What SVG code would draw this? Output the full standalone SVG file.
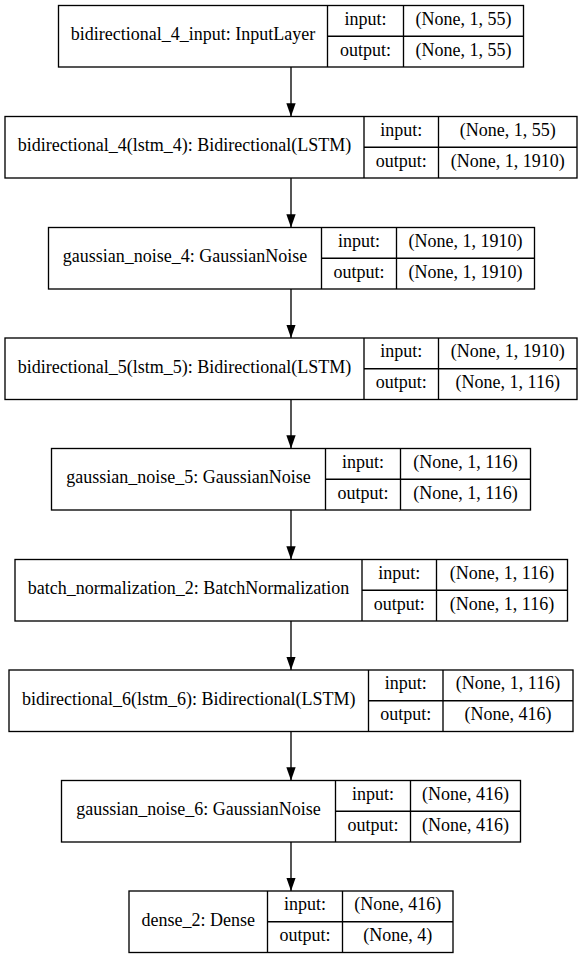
<svg xmlns="http://www.w3.org/2000/svg" width="583" height="959" viewBox="0 0 583 959">
  <style>
    .box { fill: #fff; stroke: #000; stroke-width: 1.33; }
    .sep { stroke: #000; stroke-width: 1.33; fill: none; }
    .t { font-family: 'Liberation Serif', 'Times New Roman', Times, 'DejaVu Serif', serif; font-size: 18px; fill: #000; text-anchor: middle; }
    .edge { stroke: #000; stroke-width: 1.33; fill: none; marker-end: url(#head); }
  </style>
  <defs>
    <marker id="head" viewBox="0 0 13.33 9.33" refX="13.33" refY="4.665" markerWidth="13.33" markerHeight="9.33" markerUnits="userSpaceOnUse" orient="auto">
      <path d="M0,0 L13.33,4.665 L0,9.33 z" fill="#000"/>
    </marker>
  </defs>
  <rect width="583" height="959" fill="#fff"/>

  <!-- connectors -->
  <g id="edges">
    <line class="edge" x1="291" y1="67" x2="291" y2="116.5"/>
    <line class="edge" x1="291" y1="178" x2="291" y2="227.5"/>
    <line class="edge" x1="291" y1="289" x2="291" y2="338"/>
    <line class="edge" x1="291" y1="399.5" x2="291" y2="448.5"/>
    <line class="edge" x1="291" y1="510" x2="291" y2="559.5"/>
    <line class="edge" x1="291" y1="621" x2="291" y2="670"/>
    <line class="edge" x1="291" y1="731.5" x2="291" y2="780.5"/>
    <line class="edge" x1="291" y1="842" x2="291" y2="891"/>
  </g>

  <!-- layer nodes -->
  <g class="t" font-family="Liberation Serif, serif">
  <g id="bidirectional_4_input" transform="translate(0,5.5)">
    <rect class="box" x="58.5" y="0" width="465" height="61.5"/>
    <path class="sep" d="M327.5,0 V61.5 M403.5,0 V61.5 M327.5,30.75 H523.5"/>
    <text x="193" y="34.75">bidirectional_4_input: InputLayer</text>
    <text x="365.5" y="19.4">input:</text>
    <text x="365.5" y="50.1">output:</text>
    <text x="463.5" y="19.4">(None, 1, 55)</text>
    <text x="463.5" y="50.1">(None, 1, 55)</text>
  </g>

  <g id="bidirectional_4" transform="translate(0,116.5)">
    <rect class="box" x="5" y="0" width="572" height="61.5"/>
    <path class="sep" d="M364,0 V61.5 M438.5,0 V61.5 M364,30.75 H577"/>
    <text x="184.5" y="34.75">bidirectional_4(lstm_4): Bidirectional(LSTM)</text>
    <text x="401.25" y="19.4">input:</text>
    <text x="401.25" y="50.1">output:</text>
    <text x="507.75" y="19.4">(None, 1, 55)</text>
    <text x="507.75" y="50.1">(None, 1, 1910)</text>
  </g>

  <g id="gaussian_noise_4" transform="translate(0,227.5)">
    <rect class="box" x="48.5" y="0" width="486" height="61.5"/>
    <path class="sep" d="M321.5,0 V61.5 M396.5,0 V61.5 M321.5,30.75 H534.5"/>
    <text x="185" y="34.75">gaussian_noise_4: GaussianNoise</text>
    <text x="359" y="19.4">input:</text>
    <text x="359" y="50.1">output:</text>
    <text x="465.5" y="19.4">(None, 1, 1910)</text>
    <text x="465.5" y="50.1">(None, 1, 1910)</text>
  </g>

  <g id="bidirectional_5" transform="translate(0,338)">
    <rect class="box" x="5" y="0" width="572" height="61.5"/>
    <path class="sep" d="M364,0 V61.5 M438.5,0 V61.5 M364,30.75 H577"/>
    <text x="184.5" y="34.75">bidirectional_5(lstm_5): Bidirectional(LSTM)</text>
    <text x="401.25" y="19.4">input:</text>
    <text x="401.25" y="50.1">output:</text>
    <text x="507.75" y="19.4">(None, 1, 1910)</text>
    <text x="507.75" y="50.1">(None, 1, 116)</text>
  </g>

  <g id="gaussian_noise_5" transform="translate(0,448.5)">
    <rect class="box" x="51.5" y="0" width="479" height="61.5"/>
    <path class="sep" d="M325.5,0 V61.5 M400.5,0 V61.5 M325.5,30.75 H530.5"/>
    <text x="188.5" y="34.75">gaussian_noise_5: GaussianNoise</text>
    <text x="363" y="19.4">input:</text>
    <text x="363" y="50.1">output:</text>
    <text x="465.5" y="19.4">(None, 1, 116)</text>
    <text x="465.5" y="50.1">(None, 1, 116)</text>
  </g>

  <g id="batch_normalization_2" transform="translate(0,559.5)">
    <rect class="box" x="15" y="0" width="552.5" height="61.5"/>
    <path class="sep" d="M362,0 V61.5 M436.5,0 V61.5 M362,30.75 H567.5"/>
    <text x="188.5" y="34.75">batch_normalization_2: BatchNormalization</text>
    <text x="399.25" y="19.4">input:</text>
    <text x="399.25" y="50.1">output:</text>
    <text x="502" y="19.4">(None, 1, 116)</text>
    <text x="502" y="50.1">(None, 1, 116)</text>
  </g>

  <g id="bidirectional_6" transform="translate(0,670)">
    <rect class="box" x="9" y="0" width="564" height="61.5"/>
    <path class="sep" d="M368.5,0 V61.5 M443,0 V61.5 M368.5,30.75 H573"/>
    <text x="188.75" y="34.75">bidirectional_6(lstm_6): Bidirectional(LSTM)</text>
    <text x="405.75" y="19.4">input:</text>
    <text x="405.75" y="50.1">output:</text>
    <text x="508" y="19.4">(None, 1, 116)</text>
    <text x="508" y="50.1">(None, 416)</text>
  </g>

  <g id="gaussian_noise_6" transform="translate(0,780.5)">
    <rect class="box" x="61.5" y="0" width="459" height="61.5"/>
    <path class="sep" d="M335.5,0 V61.5 M410.5,0 V61.5 M335.5,30.75 H520.5"/>
    <text x="198.5" y="34.75">gaussian_noise_6: GaussianNoise</text>
    <text x="373" y="19.4">input:</text>
    <text x="373" y="50.1">output:</text>
    <text x="465.5" y="19.4">(None, 416)</text>
    <text x="465.5" y="50.1">(None, 416)</text>
  </g>

  <g id="dense_2" transform="translate(0,891)">
    <rect class="box" x="129" y="0" width="324" height="61.5"/>
    <path class="sep" d="M267.5,0 V61.5 M342.5,0 V61.5 M267.5,30.75 H453"/>
    <text x="198.25" y="34.75">dense_2: Dense</text>
    <text x="305" y="19.4">input:</text>
    <text x="305" y="50.1">output:</text>
    <text x="397.75" y="19.4">(None, 416)</text>
    <text x="397.75" y="50.1">(None, 4)</text>
  </g>
  </g>
</svg>
